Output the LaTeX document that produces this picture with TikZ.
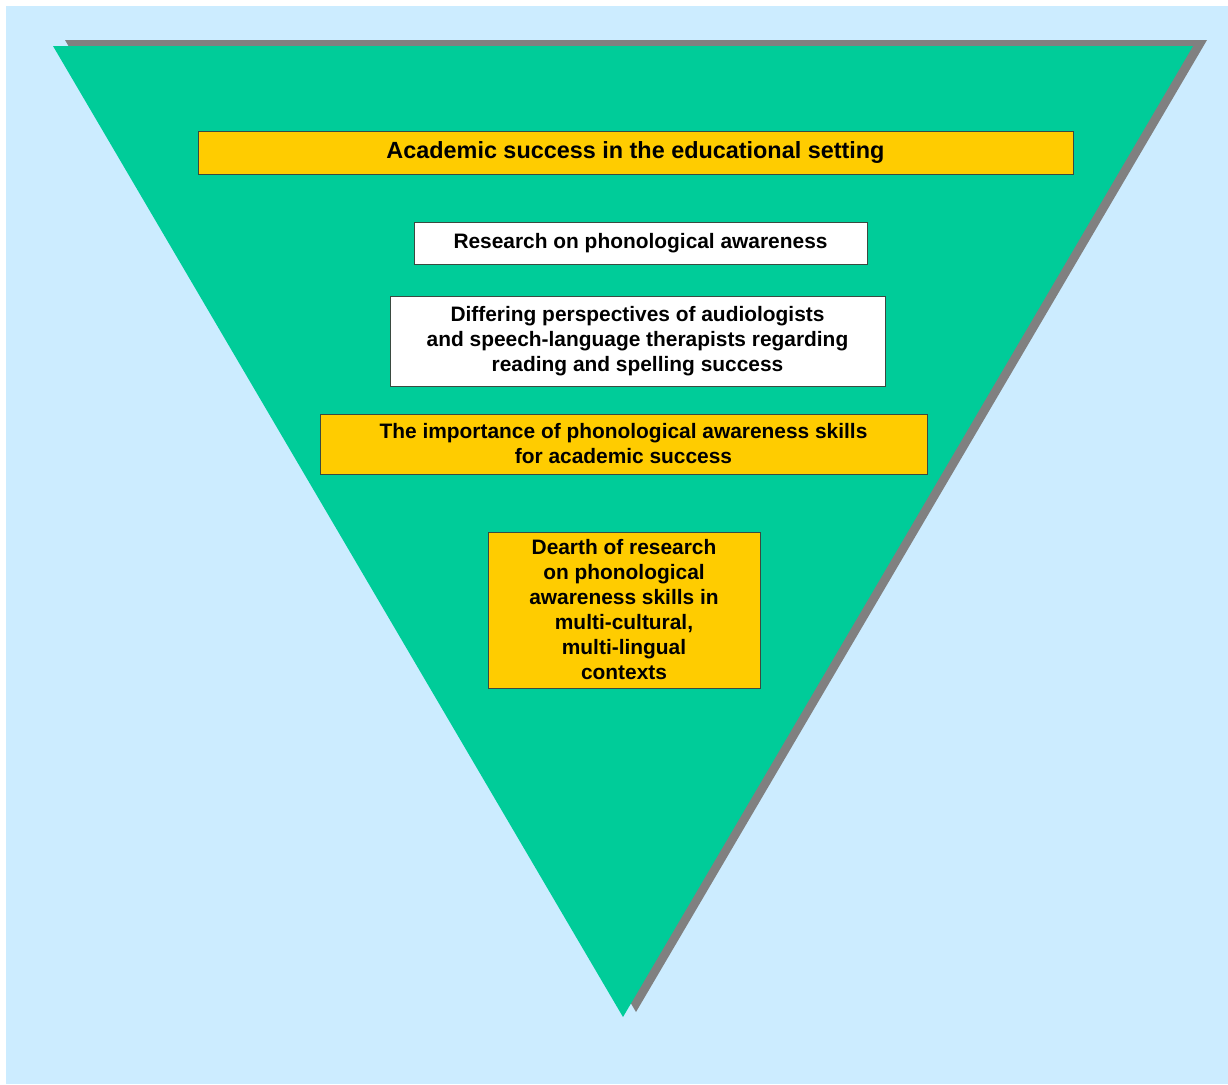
\documentclass[tikz,border=0pt]{standalone}
\usepackage{fontspec}
\setmainfont{Liberation Sans}
\definecolor{bgblue}{HTML}{CCECFF}
\definecolor{tgreen}{HTML}{00CC99}
\definecolor{tshadow}{HTML}{808080}
\definecolor{byellow}{HTML}{FFCC00}
\definecolor{bedge}{HTML}{3A4A40}
\begin{document}
\begin{tikzpicture}[x=1pt,y=-1pt,
  box/.style={draw=bedge,line width=0.8pt,inner sep=0pt,align=center,font=\bfseries\fontsize{20.9}{25}\selectfont},
  ybox/.style={box,fill=byellow},
  wbox/.style={box,fill=white}]
\useasboundingbox (0,0) rectangle (1228,1084);
\fill[white] (0,0) rectangle (1228,1084);
\fill[bgblue] (6,6) rectangle (1228,1084);
\fill[tshadow] (65,40) -- (1207,40) -- (636,1012) -- cycle;
\fill[tgreen] (53,46) -- (1193,46) -- (623,1017) -- cycle;
\node[ybox,minimum width=875pt,minimum height=43pt,font=\bfseries\fontsize{23.4}{25}\selectfont] (b1) at (635.5,152.5) {Academic success in the educational setting};
\node[wbox,minimum width=453pt,minimum height=42pt] (b2) at (640.5,243) {Research on phonological awareness};
\node[wbox,minimum width=495pt,minimum height=90pt] (b3) at (637.5,341) {Differing perspectives of audiologists\\and speech-language therapists regarding\\reading and spelling success};
\node[ybox,minimum width=607pt,minimum height=60pt] (b4) at (623.5,444) {The importance of phonological awareness skills\\for academic success};
\node[ybox,minimum width=272pt,minimum height=156pt] (b5) at (624,610) {Dearth of research\\on phonological\\awareness skills in\\multi-cultural,\\multi-lingual\\contexts};
\end{tikzpicture}
\end{document}
